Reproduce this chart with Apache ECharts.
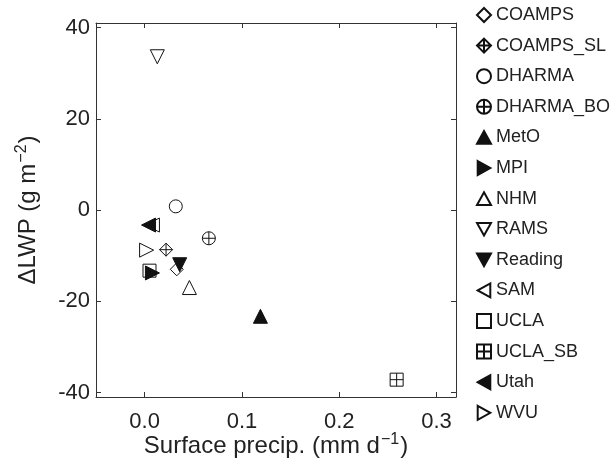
<!DOCTYPE html>
<html>
<head>
<meta charset="utf-8">
<script src="https://cdn.jsdelivr.net/npm/echarts@6/dist/echarts.min.js"></script>
<style>html,body{margin:0;padding:0;background:#fff}#c{width:614px;height:461px}</style>
</head>
<body>
<div id="c"></div>
<script>
// ---- data ----
const models = ['COAMPS','COAMPS_SL','DHARMA','DHARMA_BO','MetO','MPI','NHM','RAMS','Reading','SAM','UCLA','UCLA_SB','Utah','WVU'];
const precip = [0.033, 0.022, 0.032, 0.066, 0.119, 0.008, 0.046, 0.013, 0.036, 0.008, 0.005, 0.259, 0.004, 0.002];
const dLWP   = [-13.0, -8.7, 0.8, -6.2, -23.3, -13.8, -17.0, 33.6, -12.0, -3.3, -13.3, -37.2, -3.3, -8.8];
const xTicks = [0.0, 0.1, 0.2, 0.3];
const yTicks = [-40, -20, 0, 20, 40];

// ---- marker styles ----
const P = {
  diamond: 'path://M0,-10 L10,0 L0,10 L-10,0 Z',
  diamondPlus: 'path://M0,-10 L10,0 L0,10 L-10,0 Z M-10,0 L10,0 M0,-10 L0,10',
  circle: 'path://M0,-10 A10,10 0 1,1 0,10 A10,10 0 1,1 0,-10 Z',
  circlePlus: 'path://M0,-10 A10,10 0 1,1 0,10 A10,10 0 1,1 0,-10 Z M-10,0 L10,0 M0,-10 L0,10',
  up: 'path://M0,-10 L10,8 L-10,8 Z',
  down: 'path://M-10,-8 L10,-8 L0,10 Z',
  left: 'path://M-10,0 L8,-10 L8,10 Z',
  right: 'path://M-8,-10 L10,0 L-8,10 Z',
  square: 'path://M-10,-10 L10,-10 L10,10 L-10,10 Z',
  squarePlus: 'path://M-10,-10 L10,-10 L10,10 L-10,10 Z M-10,0 L10,0 M0,-10 L0,10'
};
const marks = [
  [P.diamond, false, 13],
  [P.diamondPlus, false, 13],
  [P.circle, false, 13],
  [P.circlePlus, false, 13],
  [P.up, true, 14],
  [P.right, true, 14],
  [P.up, false, 14],
  [P.down, false, 14],
  [P.down, true, 14],
  [P.left, false, 14],
  [P.square, false, 13],
  [P.squarePlus, false, 13],
  [P.left, true, 14],
  [P.right, false, 14]
];

const font = 'Liberation Sans, Arial, Helvetica, sans-serif';
const series = models.map((m, i) => ({
  name: m,
  type: 'scatter',
  symbol: marks[i][0],
  symbolSize: marks[i][2],
  data: [[precip[i], dLWP[i]]],
  itemStyle: {
    color: marks[i][1] ? '#111' : 'rgba(255,255,255,0)',
    borderColor: '#111',
    borderWidth: 1,
    opacity: 1
  },
  emphasis: {disabled: true},
  z: 2 + i
}));

const axisLineStyle = {lineStyle: {color: '#333', width: 1}};
const tickStyle = {inside: true, length: 5, lineStyle: {color: '#333', width: 1}};
const nameStyle = {
  fontFamily: font, fontSize: 24, lineHeight: 26, color: '#222',
  rich: {
    n: {fontFamily: font, fontSize: 24, lineHeight: 26, color: '#222', verticalAlign: 'bottom'},
    sup: {fontFamily: font, fontSize: 16, lineHeight: 26, color: '#222', verticalAlign: 'top', padding: [0, 1, 0, 1]}
  }
};

const option = {
  animation: false,
  backgroundColor: '#fff',
  grid: {left: 96, right: 158, top: 23, bottom: 64, containLabel: false, outerBoundsMode: 'none'},
  legend: {
    orient: 'vertical',
    left: 476,
    top: 6,
    padding: 0,
    itemWidth: 14,
    itemHeight: 14,
    itemGap: 12.6,
    data: models,
    textStyle: {fontFamily: font, fontSize: 18, lineHeight: 18, color: '#222'},
    selectedMode: false
  },
  xAxis: [{
    type: 'value', min: -0.05, max: 0.32,
    axisLine: Object.assign({show: true, onZero: false}, axisLineStyle),
    axisTick: Object.assign({customValues: xTicks}, tickStyle),
    axisLabel: {customValues: xTicks, formatter: v => v.toFixed(1), fontFamily: font, fontSize: 22, color: '#222', margin: 14},
    splitLine: {show: false},
    name: '{n|Surface precip. (mm d}{sup|\u22121}{n|)}',
    nameLocation: 'middle', nameGap: 35, nameMoveOverlap: false,
    nameTextStyle: nameStyle
  }, {
    type: 'value', min: -0.05, max: 0.32, position: 'top',
    axisLine: Object.assign({show: true, onZero: false}, axisLineStyle),
    axisTick: Object.assign({customValues: xTicks}, tickStyle),
    axisLabel: {show: false},
    splitLine: {show: false}
  }],
  yAxis: [{
    type: 'value', min: -41, max: 41,
    axisLine: Object.assign({show: true, onZero: false}, axisLineStyle),
    axisTick: Object.assign({customValues: yTicks}, tickStyle),
    axisLabel: {customValues: yTicks, fontFamily: font, fontSize: 22, color: '#222', margin: 6},
    splitLine: {show: false},
    name: '{n|\u0394LWP (g m}{sup|\u22122}{n|)}',
    nameLocation: 'middle', nameGap: 56, nameMoveOverlap: false,
    nameTextStyle: nameStyle
  }, {
    type: 'value', min: -41, max: 41, position: 'right',
    axisLine: Object.assign({show: true, onZero: false}, axisLineStyle),
    axisTick: Object.assign({customValues: yTicks}, tickStyle),
    axisLabel: {show: false},
    splitLine: {show: false}
  }],
  series: series
};

const chart = echarts.init(document.getElementById('c'), null, {renderer: 'canvas'});
chart.setOption(option);
</script>
</body>
</html>
